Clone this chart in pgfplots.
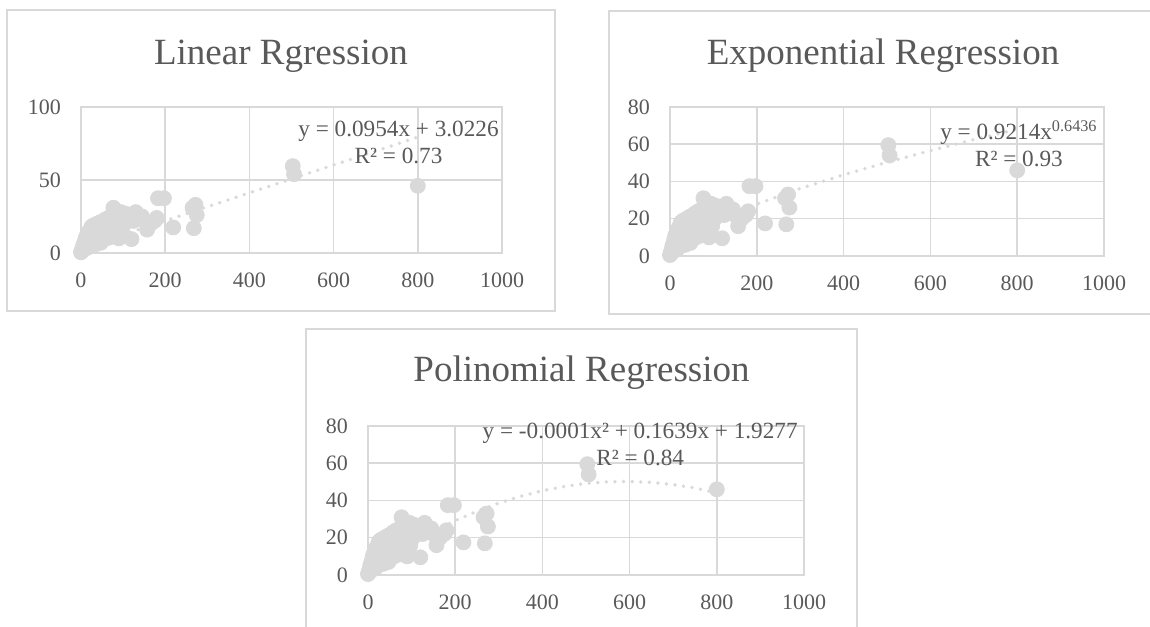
\documentclass[border=0pt]{standalone}
\usepackage{fontspec}
\setmainfont{Liberation Serif}
\usepackage{pgfplots}
\usepackage{pgfplotstable}
\pgfplotsset{compat=1.18}

\definecolor{txt}{HTML}{595959}
\definecolor{grd}{HTML}{D9D9D9}
\definecolor{dot}{HTML}{D9D9D9}

% scatter data (same in all three charts)
\pgfplotstableread{
x y
0 0.5
1 1
2 2
3 1.5
4 3
5 2
5 5
6 4
7 6
8 3
8 7
10 5
10 9
11 3
12 7
12 11
14 5
14 9
15 12
16 7
17 14
18 4
18 10
20 8
20 13
22 6
22 16
24 10
25 14
25 18
27 8
28 12
30 16
30 19
32 10
33 14
35 6
35 18
37 12
38 20
40 9
40 15
42 18
44 12
45 21
47 7
48 16
50 19
52 11
53 22
55 14
57 18
58 23
60 10
60 16
62 20
64 13
65 24
67 17
70 21
72 11
73 25
75 15
77 31
78 19
80 23
82 13
84 27
85 17
87 22
90 10
90 25
93 19
95 28
97 16
100 24
103 20
105 27
108 22
110 26
115 24
120 9.5
125 22
130 28
135 26
140 24
145 25
150 22
157 16
165 20
175 22
180 24
183 37.5
197 37.5
219 17.5
265 31
272 33
275 26
268 17
503 59.5
506 54
800 46
}\data

% trendlines
\pgfplotstableread{
x y
0 3.02
800 79.35
}\linfit

\pgfplotstableread{
x y
1 0.92
5 2.60
10 4.06
25 7.31
50 11.43
100 17.85
150 23.18
200 27.88
300 36.20
400 43.57
500 50.29
600 56.56
700 62.46
800 68.07
}\powfit

\pgfplotstableread{
x y
0 1.93
50 9.78
100 16.93
150 23.39
200 29.15
250 34.22
300 38.59
350 42.27
400 45.25
450 47.54
500 49.13
550 50.03
600 50.23
650 49.74
700 48.55
750 46.67
800 44.09
}\polyfit

\pgfplotsset{
  excel/.style={
    scale only axis,
    anchor=south west,
    xmin=0, xmax=1000,
    xtick={0,200,...,1000},
    ymin=0,
    grid=major,
    grid style={grd, line width=0.75pt},
    axis line style={grd, line width=0.75pt},
    major tick length=0pt,
    tick label style={font=\fontsize{11}{12}\selectfont, text=txt},
    /pgf/number format/assume math mode=true,
    /pgf/number format/1000 sep={},
    xticklabel style={yshift=-6.5pt},
    yticklabel style={xshift=-6.5pt},
    clip=false,
  },
  pts/.style={only marks, mark=*, mark size=3.75pt,
    mark options={fill=dot, draw=dot}},
  fit/.style={no marks, dot, line width=1.9pt, line cap=round,
    dash pattern=on 0pt off 4.3pt},
}

\newcommand{\eqf}{\fontsize{11.6}{13}\selectfont}

\begin{document}
\begin{tikzpicture}
\useasboundingbox (0,0) rectangle (575pt,313pt);

% chart frames
\draw[grd, line width=0.75pt] (3.5pt,157.5pt) rectangle (277.5pt,308pt);
\draw[grd, line width=0.75pt] (304.5pt,156pt) rectangle (580pt,307.5pt);
\draw[grd, line width=0.75pt] (153pt,-3pt) rectangle (428.5pt,148.5pt);

% Linear
\begin{axis}[excel, at={(40.5pt,186.5pt)}, width=210.5pt, height=73pt,
  ymax=100, ytick={0,50,100}]
  \addplot[pts] table {\data};
  \addplot[fit] table {\linfit};
\end{axis}
\node[txt, font=\fontsize{18.5}{20}\selectfont] at (140.5pt,285pt) {Linear Rgression};
\node[txt, font=\eqf, anchor=base east, inner sep=0pt] (e1) at (249.5pt,244.7pt) {y = 0.0954x + 3.0226};
\node[txt, font=\eqf, anchor=base, inner sep=0pt] at (e1.base |- 0,231pt) {R² = 0.73};

% Exponential
\begin{axis}[excel, at={(335pt,185pt)}, width=217pt, height=74.5pt,
  ymax=80, ytick={0,20,...,80}]
  \addplot[pts] table {\data};
  \addplot[fit] table {\powfit};
\end{axis}
\node[txt, font=\fontsize{18.5}{20}\selectfont] at (441.5pt,285pt) {Exponential Regression};
\node[txt, font=\eqf, anchor=base east, inner sep=0pt] (e2) at (549pt,243pt) {y = 0.9214x\textsuperscript{0.6436}};
\node[txt, font=\eqf, anchor=base, inner sep=0pt] at (e2.base |- 0,229.7pt) {R² = 0.93};

% Polynomial
\begin{axis}[excel, at={(184pt,25.5pt)}, width=218pt, height=74.5pt,
  ymax=80, ytick={0,20,...,80}]
  \addplot[pts] table {\data};
  \addplot[fit] table {\polyfit};
\end{axis}
\node[txt, font=\fontsize{18.5}{20}\selectfont] at (290.75pt,126.5pt) {Polinomial Regression};
\node[txt, font=\eqf, anchor=base east, inner sep=0pt] (e3) at (399pt,93.8pt) {y = -0.0001x² + 0.1639x + 1.9277};
\node[txt, font=\eqf, anchor=base, inner sep=0pt] at (e3.base |- 0,80.2pt) {R² = 0.84};
\end{tikzpicture}
\end{document}
